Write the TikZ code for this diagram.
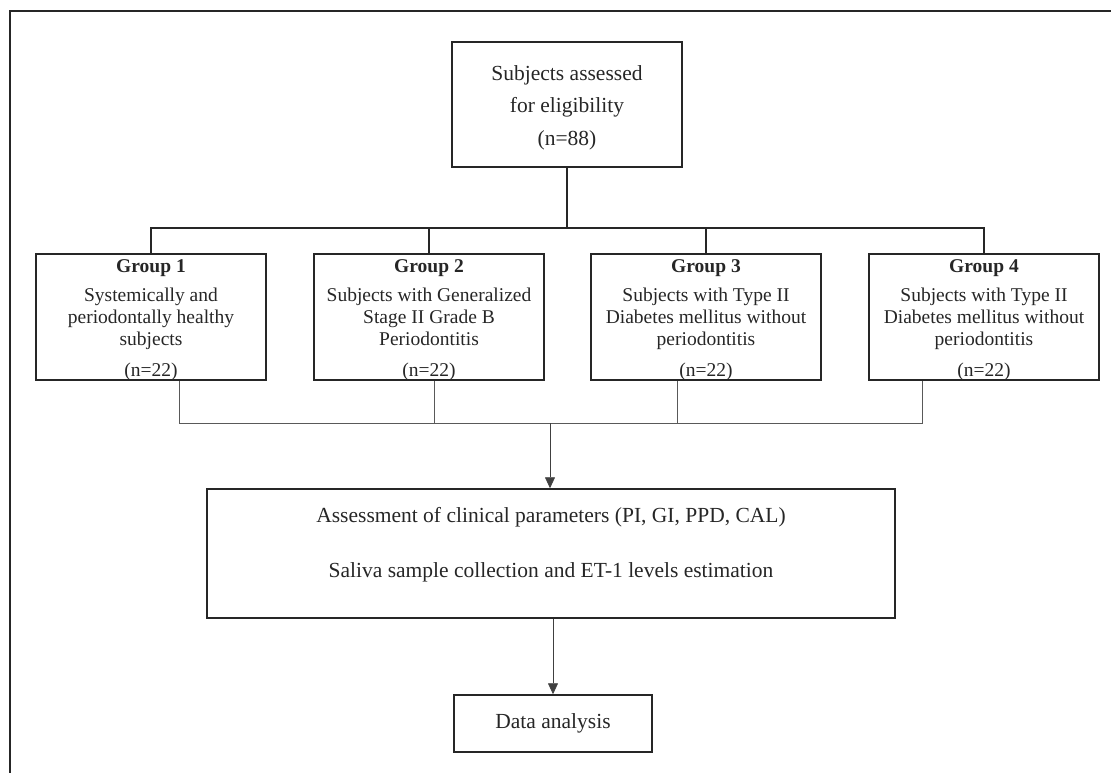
\documentclass[tikz,border=0pt]{standalone}
\usepackage{fontspec}
\setmainfont{Liberation Serif}
\usetikzlibrary{calc,arrows.meta}
\newcommand{\topstrut}{\rule{0pt}{15pt}}
\begin{document}
\begin{tikzpicture}[x=1pt,y=-1pt,
  boxbase/.style={draw=black!85, line width=1.5pt, inner sep=0pt, align=center, text=black!85},
  grpbox/.style={boxbase, minimum width=230pt, minimum height=126pt, font=\fontsize{19.5}{21.7}\selectfont},
  thickline/.style={draw=black!85, line width=1.6pt},
  thinline/.style={draw=black!65, line width=0.8pt},
  arrowline/.style={draw=black!75, line width=0.8pt, -{Triangle[length=11pt,width=10pt]}},
  frameline/.style={draw=black!85, line width=2pt}
]
\useasboundingbox (0,0) rectangle (1111,773);
% outer frame (only top and left edges visible)
\coordinate (fbl) at (10,773);
\coordinate (ftl) at (10,11);
\coordinate (ftr) at (1111,11);
\draw[frameline] (fbl) -- (ftl) -- (ftr);

% top box
\node[boxbase, minimum width=230pt, minimum height=125pt, font=\fontsize{21.5}{32.5}\selectfont] (top) at (567,104.5)
  {\rule{0pt}{21pt}Subjects assessed\\for eligibility\\(n=88)};

% group boxes
\node[grpbox] (g1) at (151,317) {\topstrut\textbf{Group 1}\\[8pt]Systemically and\\periodontally healthy\\subjects\\[10pt]\smash{(n=22)}};
\node[grpbox] (g2) at (429,317) {\topstrut\textbf{Group 2}\\[8pt]Subjects with Generalized\\Stage II Grade B\\Periodontitis\\[10pt]\smash{(n=22)}};
\node[grpbox] (g3) at (706,317) {\topstrut\textbf{Group 3}\\[8pt]Subjects with Type II\\Diabetes mellitus without\\periodontitis\\[10pt]\smash{(n=22)}};
\node[grpbox] (g4) at (984,317) {\topstrut\textbf{Group 4}\\[8pt]Subjects with Type II\\Diabetes mellitus without\\periodontitis\\[10pt]\smash{(n=22)}};

% assessment box
\node[boxbase, minimum width=688pt, minimum height=129pt] (assess) at (551,553.5) {};
\node[align=center, inner sep=0pt, text=black!85, font=\fontsize{21.5}{55}\selectfont] (assesstxt) at (551,544.5)
  {Assessment of clinical parameters (PI, GI, PPD, CAL)\\Saliva sample collection and ET-1 levels estimation};

% data analysis box
\node[boxbase, minimum width=198pt, minimum height=57pt, font=\fontsize{21.5}{24}\selectfont] (data) at (553,723.5) {Data analysis};

% top connectors
\coordinate (hub) at (567,228);
\draw[thickline] (top.south) -- (hub);
\draw[thickline] (g1.north) |- (hub);
\draw[thickline] (g2.north) |- (hub);
\draw[thickline] (g3.north) |- (hub);
\draw[thickline] (g4.north) |- (hub);

% bottom connectors
\coordinate (merge) at (550,423);
\draw[thinline] ($(g1.south)+(28,0)$) |- (merge);
\draw[thinline] ($(g2.south)+(5,0)$) |- (merge);
\draw[thinline] ($(g3.south)+(-29,0)$) |- (merge);
\draw[thinline] ($(g4.south)+(-62,0)$) |- (merge);
\draw[arrowline] (merge) -- (merge |- assess.north);
\draw[arrowline] (assess.south -| data.north) -- (data.north);
\end{tikzpicture}
\end{document}
